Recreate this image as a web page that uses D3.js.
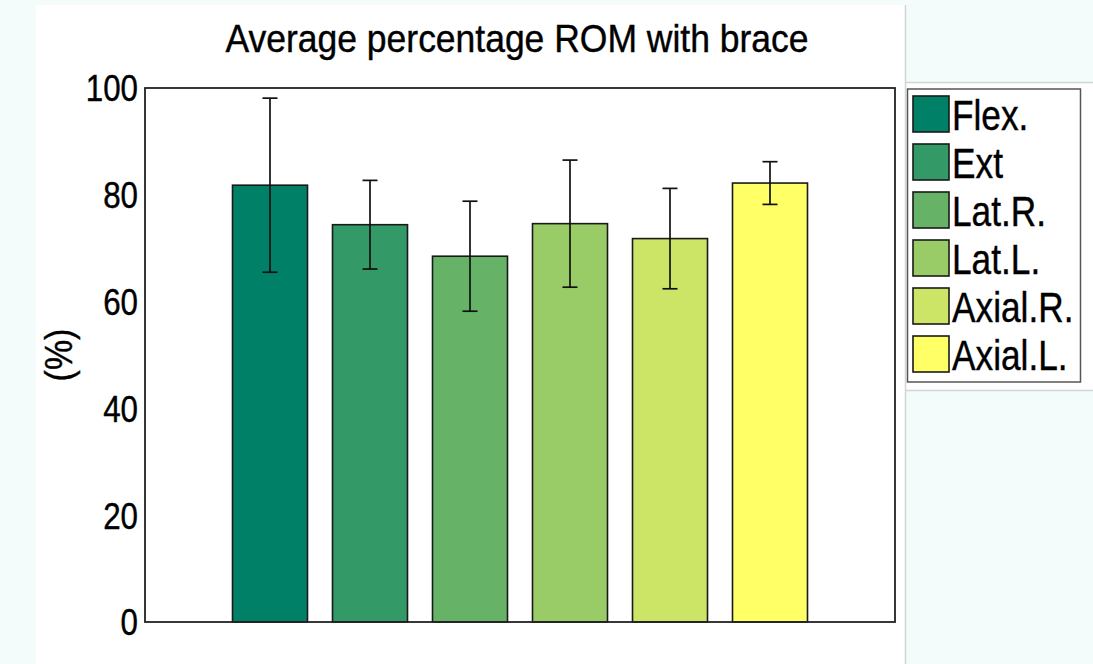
<!DOCTYPE html>
<html>
<head>
<meta charset="utf-8">
<script src="https://cdn.jsdelivr.net/npm/d3@7"></script>
<style>
  html, body { margin: 0; padding: 0; background: #f4fbfb; }
  svg { display: block; }
  text { font-family: "Liberation Sans", Arial, sans-serif; fill: #000; stroke: #000; stroke-width: 0.4px; }
</style>
</head>
<body>
<svg id="chart" width="1093" height="664"></svg>
<script>
// Range of motion with brace, percent of unbraced (mean and SD)
const categories = ["Flex.", "Ext", "Lat.R.", "Lat.L.", "Axial.R.", "Axial.L."];
const means = [81.8, 74.4, 68.5, 74.6, 71.8, 82.2];
const errors = [16.3, 8.3, 10.3, 11.9, 9.4, 4.0];
const colors = ["#008066", "#339966", "#66b266", "#99cc66", "#cce566", "#ffff66"];
const yTicks = [0, 20, 40, 60, 80, 100];
const title = "Average percentage ROM with brace";
const yLabel = "(%)";

const svg = d3.select("#chart");
const W = 1093, H = 664;
const plot = { left: 145, top: 88, right: 895, bottom: 622 };
const sx = 0.87; // horizontal text compression

// Page panels
svg.append("rect").attr("x", 0).attr("y", 0).attr("width", W).attr("height", H).attr("fill", "#f4fbfb");
svg.append("rect").attr("x", 36).attr("y", 5).attr("width", 869).attr("height", H - 5).attr("fill", "#ffffff");
svg.append("rect").attr("x", 905).attr("y", 82).attr("width", W - 905).attr("height", 308).attr("fill", "#ffffff");
svg.append("line").attr("x1", 905.5).attr("x2", 905.5).attr("y1", 5).attr("y2", H).attr("stroke", "#d0d6d6").attr("stroke-width", 1.5);
[82.5, 390.5].forEach(y => svg.append("line").attr("x1", 905).attr("x2", W).attr("y1", y).attr("y2", y)
  .attr("stroke", "#d0d6d6").attr("stroke-width", 1.5));

const x = d3.scaleLinear().domain([-1.25, 6.25]).range([plot.left, plot.right]);
const y = d3.scaleLinear().domain([0, 100]).range([plot.bottom, plot.top]);
const barW = x(0.75) - x(0);

function label(g, tx, ty, str, size, anchor, rot, kx) {
  return g.append("text")
    .attr("transform", `translate(${tx},${ty})` + (rot ? ` rotate(${rot})` : "") + ` scale(${kx || sx},1)`)
    .attr("text-anchor", anchor)
    .style("font-size", size + "px")
    .text(str);
}

// Bars
svg.append("g").selectAll("rect").data(categories).join("rect")
  .attr("x", (d, i) => x(i) - barW / 2)
  .attr("y", (d, i) => y(means[i]))
  .attr("width", barW)
  .attr("height", (d, i) => y(0) - y(means[i]))
  .attr("fill", (d, i) => colors[i])
  .attr("stroke", "#1a1a1a").attr("stroke-width", 1.6);

// Error bars
const eg = svg.append("g").attr("stroke", "#111").attr("stroke-width", 1.7).attr("fill", "none");
categories.forEach((d, i) => {
  const cx = x(i), lo = y(means[i] - errors[i]), hi = y(means[i] + errors[i]);
  eg.append("line").attr("x1", cx).attr("x2", cx).attr("y1", lo).attr("y2", hi);
  eg.append("line").attr("x1", cx - 7.5).attr("x2", cx + 7.5).attr("y1", lo).attr("y2", lo);
  eg.append("line").attr("x1", cx - 7.5).attr("x2", cx + 7.5).attr("y1", hi).attr("y2", hi);
});

// Axes box
svg.append("rect").attr("x", plot.left).attr("y", plot.top)
  .attr("width", plot.right - plot.left).attr("height", plot.bottom - plot.top)
  .attr("fill", "none").attr("stroke", "#222").attr("stroke-width", 1.8);

// Y axis tick labels
const yAxis = d3.axisLeft(y).tickValues(yTicks).tickSize(0).tickPadding(7);
const ya = svg.append("g").attr("transform", `translate(${plot.left},0)`).call(yAxis);
ya.select(".domain").remove();
ya.selectAll(".tick text")
  .attr("dy", null).attr("dominant-baseline", "central")
  .style("font-size", "36px").style("font-family", '"Liberation Sans", Arial, sans-serif')
  .attr("fill", "#000")
  .attr("transform", `translate(-7,0) scale(${sx},1) translate(7,0)`);

// Title and axis label
label(svg, 517, 52, title, 39, "middle", 0, 0.91);
label(svg, 72, 355, yLabel, 39, "middle", -90);

// Legend
const lg = svg.append("g");
lg.append("rect").attr("x", 907.5).attr("y", 89).attr("width", 173).attr("height", 293)
  .attr("fill", "#fff").attr("stroke", "#555").attr("stroke-width", 1.5);
categories.forEach((d, i) => {
  const ty = 96 + i * 48;
  lg.append("rect").attr("x", 913).attr("y", ty).attr("width", 36).attr("height", 36)
    .attr("fill", colors[i]).attr("stroke", "#1a1a1a").attr("stroke-width", 1.6);
  label(lg, 952, ty + 34, d, 42, "start", 0, 0.84);
});
</script>
</body>
</html>
